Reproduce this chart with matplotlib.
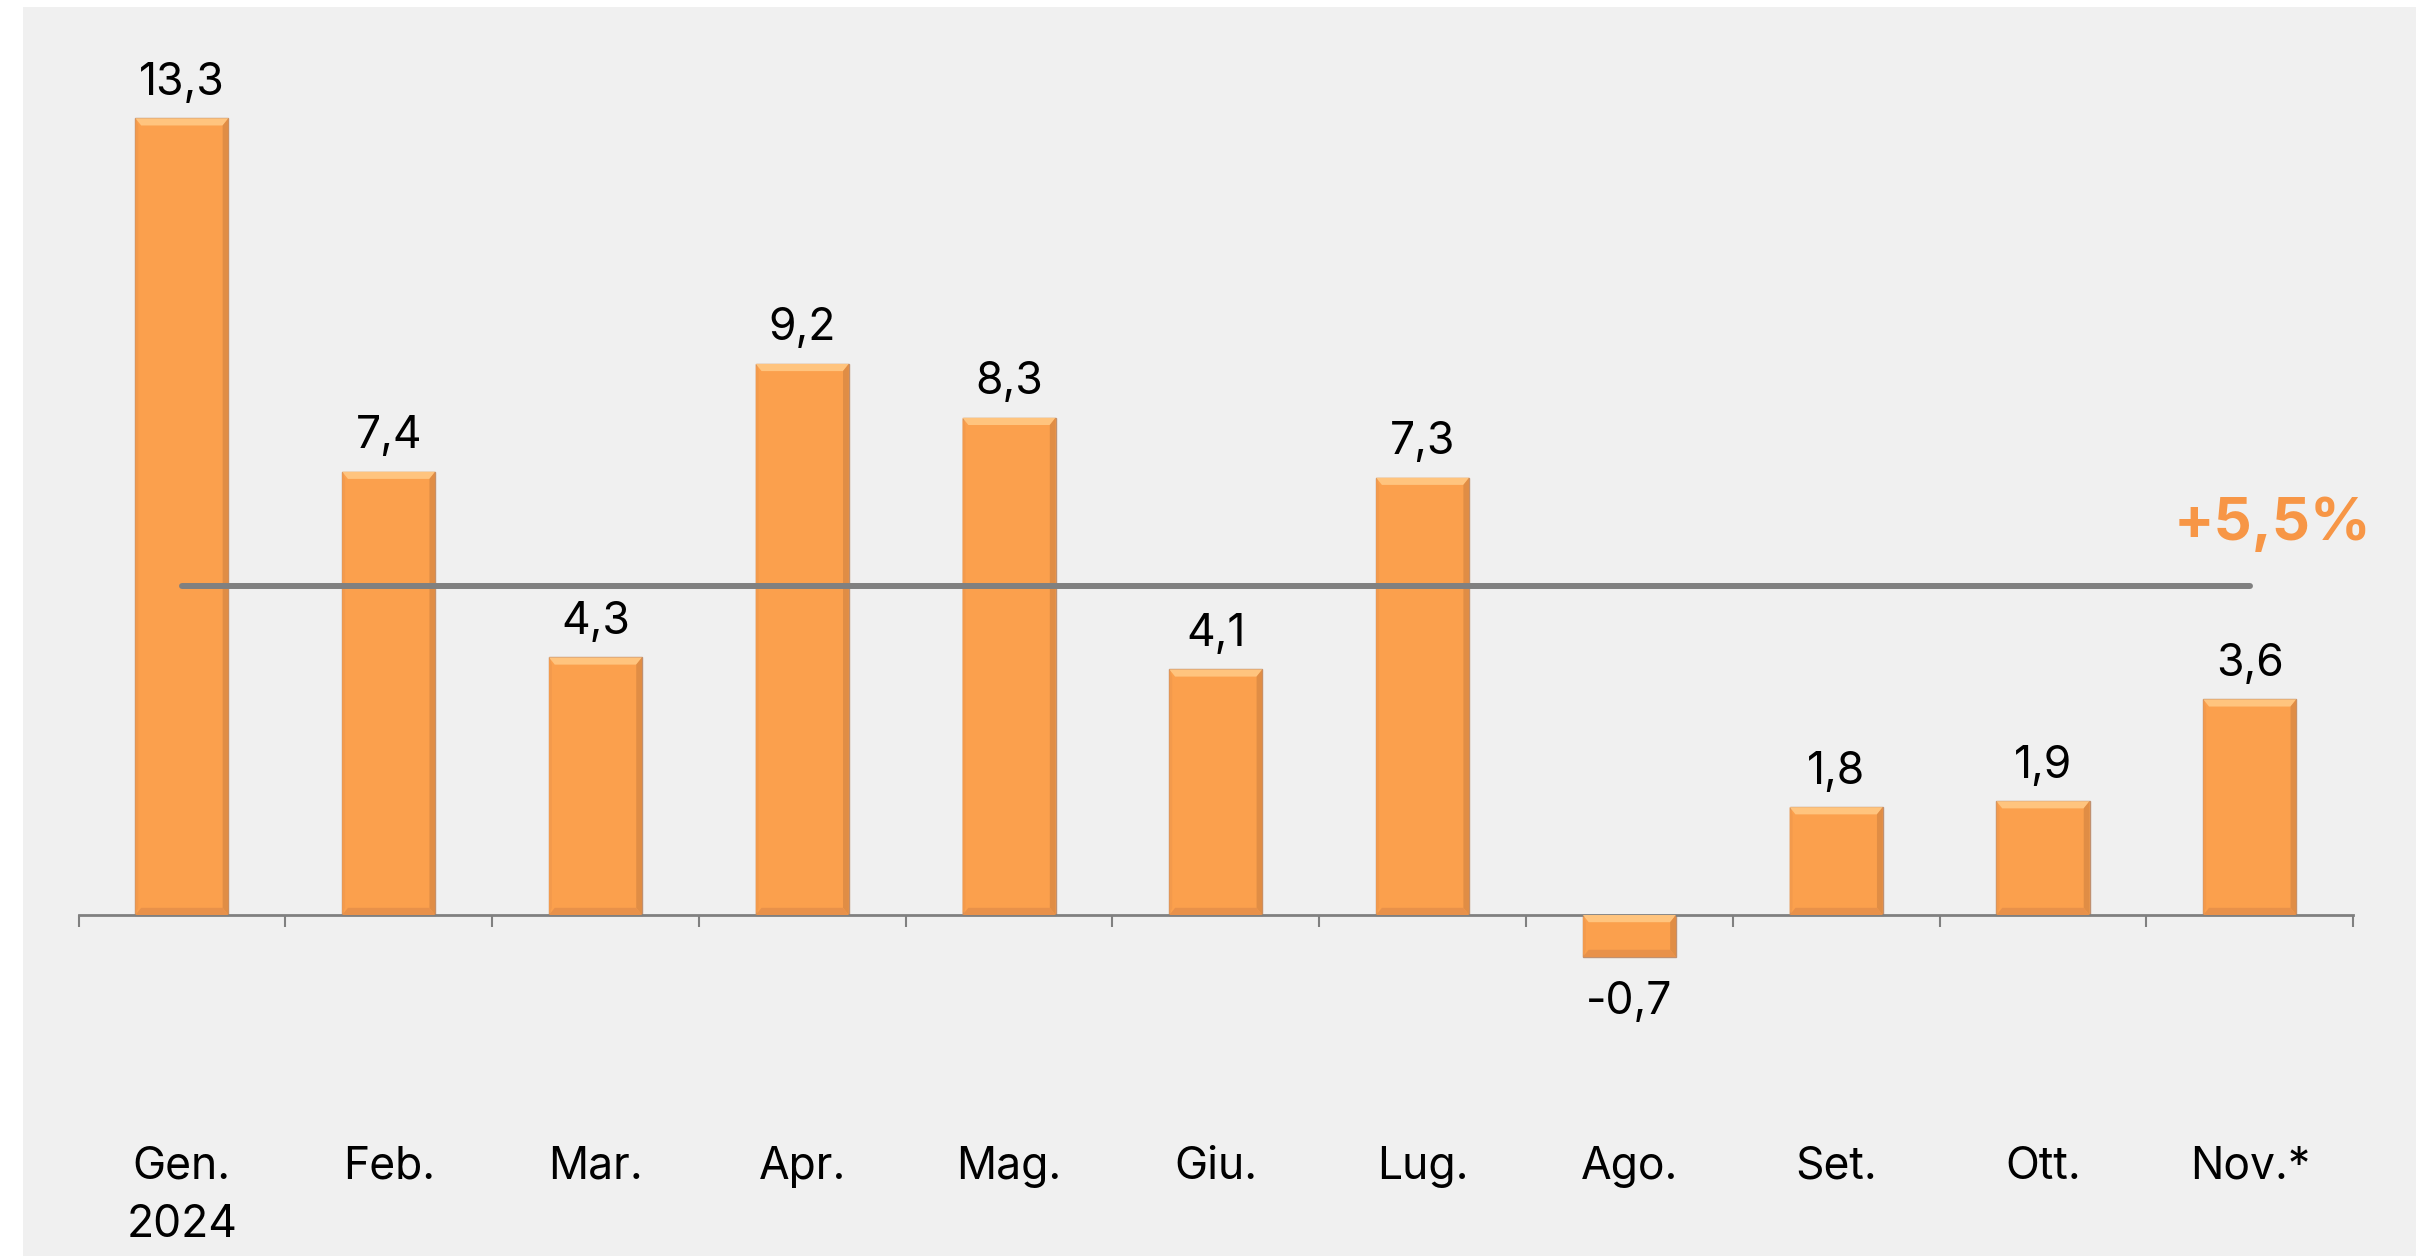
import matplotlib
matplotlib.use("Agg")
import matplotlib.pyplot as plt
from matplotlib.patches import Rectangle, Polygon

# data
months = ["Gen.\n2024", "Feb.", "Mar.", "Apr.", "Mag.", "Giu.", "Lug.", "Ago.", "Set.", "Ott.", "Nov.*"]
values = [13.3, 7.4, 4.3, 9.2, 8.3, 4.1, 7.3, -0.7, 1.8, 1.9, 3.6]
average = 5.5
average_label = "+5,5%"

BAR = "#FBA04D"
TOP = "#FFC47E"
SIDE = "#E08D45"
BOTTOM = "#E8914A"
GRAY = "#808080"

plt.rcParams["font.family"] = ["Inter", "DejaVu Sans"]

fig = plt.figure(figsize=(24.16, 12.56), dpi=100)
fig.patches.append(Rectangle((23 / 2416, 0), 1, 1 - 7 / 1256, transform=fig.transFigure,
                             facecolor="#F0F0F0", edgecolor="none", zorder=-10))

ax = fig.add_axes([0.0325, 0.1761, 0.9415, 0.7631])
ax.set_facecolor("none")
ax.set_xlim(-0.5, len(values) - 0.5)
ax.set_ylim(-2, 14)

x = list(range(len(values)))
width = 0.45
bars = ax.bar(x, values, width=width, color=BAR, edgecolor="#C09070", linewidth=1, zorder=2)

# simple bevel effect on every bar
bx, by = 0.028, 0.12
for rect in bars:
    x0, y0 = rect.get_x(), rect.get_y()
    w, h = rect.get_width(), rect.get_height()
    y1 = y0 + h
    lo, hi = min(y0, y1), max(y0, y1)
    ax.add_patch(Polygon([(x0, hi), (x0 + w, hi), (x0 + w - bx, hi - by), (x0 + bx, hi - by)],
                         closed=True, facecolor=TOP, edgecolor="none", zorder=3))
    ax.add_patch(Polygon([(x0 + w, hi), (x0 + w, lo), (x0 + w - bx, lo + by), (x0 + w - bx, hi - by)],
                         closed=True, facecolor=SIDE, edgecolor="none", zorder=3))
    ax.add_patch(Polygon([(x0, lo), (x0 + w, lo), (x0 + w - bx, lo + by), (x0 + bx, lo + by)],
                         closed=True, facecolor=BOTTOM, edgecolor="none", zorder=3))
    ax.add_patch(Polygon([(x0, hi), (x0, lo), (x0 + bx * 0.5, lo + by), (x0 + bx * 0.5, hi - by)],
                         closed=True, facecolor="#F39A4C", edgecolor="none", zorder=3))

for xi, v in zip(x, values):
    label = f"{v:.1f}".replace(".", ",")
    if v >= 0:
        ax.annotate(label, (xi, v), xytext=(0, 17), textcoords="offset points",
                    ha="center", va="baseline", fontsize=32, color="black")
    else:
        ax.annotate(label, (xi, v), xytext=(0, -17), textcoords="offset points",
                    ha="center", va="top", fontsize=32, color="black")

# average line
ax.plot([x[0], x[-1]], [average, average], color=GRAY, linewidth=4.3,
        solid_capstyle="round", zorder=4)
ax.text(10.11, average + 1.03, average_label, ha="center", va="center", fontsize=43,
        fontweight="bold", color="#F79646")

for s in ["top", "right", "left"]:
    ax.spines[s].set_visible(False)
ax.spines["bottom"].set_position(("data", 0))
ax.spines["bottom"].set_color(GRAY)
ax.spines["bottom"].set_linewidth(2)
ax.set_yticks([])

ax.set_xticks([i - 0.5 for i in range(len(values) + 1)], minor=True)
ax.set_xticks(x)
ax.set_xticklabels(months, fontsize=32, linespacing=1.5)
ax.tick_params(axis="x", which="major", length=0, pad=166)
ax.tick_params(axis="x", which="minor", length=8.5, width=1.5, color=GRAY, direction="out")

fig.savefig("out.png", dpi=100)
